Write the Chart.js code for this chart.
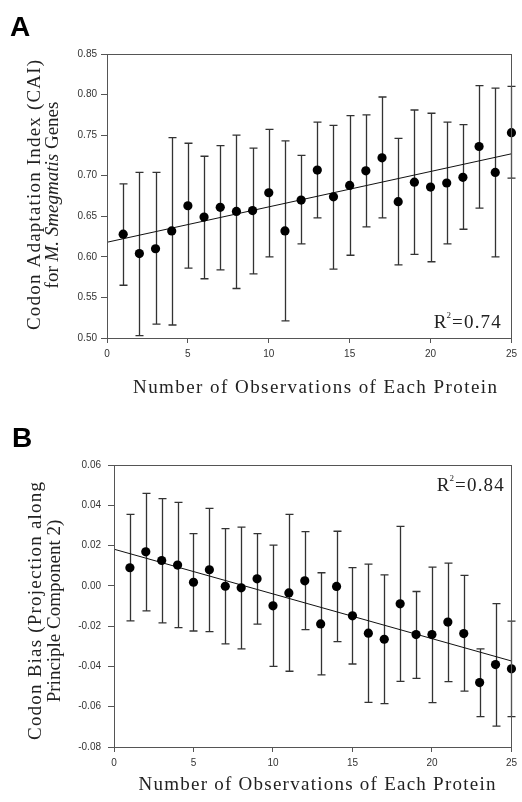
<!DOCTYPE html>
<html><head><meta charset="utf-8">
<script src="https://cdn.jsdelivr.net/npm/chart.js@4.4.1/dist/chart.umd.min.js"></script>
<style>
html,body{margin:0;padding:0;background:#fff;}
#wrap{position:relative;width:522px;height:802px;overflow:hidden;background:#fff;}
.pane{position:absolute;left:0;width:522px;}
canvas{display:block;}
</style></head><body>
<div id="wrap">
<div class="pane" style="top:0;height:400px"><canvas id="cA" width="522" height="400" style="width:522px;height:400px"></canvas></div>
<div class="pane" style="top:400px;height:402px"><canvas id="cB" width="522" height="402" style="width:522px;height:402px"></canvas></div>
</div>
<script>
// ---- data ----
const observations = [1,2,3,4,5,6,7,8,9,10,11,12,13,14,15,16,17,18,19,20,21,22,23,24,25];

const caiMean  = [0.628,0.604,0.610,0.632,0.663,0.649,0.661,0.656,0.657,0.679,0.632,0.670,0.707,0.674,0.688,0.706,0.722,0.668,0.692,0.686,0.691,0.698,0.736,0.704,0.753];
const caiUpper = [0.690,0.704,0.704,0.747,0.740,0.724,0.737,0.750,0.734,0.757,0.743,0.725,0.766,0.762,0.774,0.775,0.797,0.746,0.781,0.777,0.766,0.763,0.811,0.808,0.810];
const caiLower = [0.565,0.503,0.517,0.516,0.586,0.573,0.584,0.561,0.579,0.600,0.521,0.616,0.648,0.585,0.602,0.637,0.648,0.590,0.603,0.594,0.616,0.634,0.660,0.600,0.697];
const caiFitX  = [0, 25];
const caiFitY  = [0.618, 0.727];
const caiR2    = "0.74";

const biasMean  = [0.0090,0.0169,0.0126,0.0103,0.0018,0.0080,-0.0002,-0.0010,0.0035,-0.0099,-0.0035,0.0025,-0.0189,-0.0003,-0.0149,-0.0235,-0.0265,-0.0089,-0.0242,-0.0242,-0.0180,-0.0237,-0.0480,-0.0391,-0.0412];
const biasUpper = [0.0355,0.0459,0.0433,0.0414,0.0259,0.0385,0.0284,0.0292,0.0259,0.0202,0.0355,0.0269,0.0065,0.0271,0.0091,0.0108,0.0055,0.0295,-0.0028,0.0093,0.0113,0.0052,-0.0313,-0.0088,-0.0175];
const biasLower = [-0.0174,-0.0124,-0.0184,-0.0207,-0.0224,-0.0227,-0.0288,-0.0313,-0.0190,-0.0400,-0.0424,-0.0217,-0.0442,-0.0277,-0.0388,-0.0578,-0.0585,-0.0474,-0.0459,-0.0580,-0.0475,-0.0523,-0.0649,-0.0696,-0.0649];
const biasFitX  = [0, 25];
const biasFitY  = [0.0182, -0.0373];
const biasR2    = "0.84";

const xTicks     = [0,5,10,15,20,25];
const caiTicks   = [0.50,0.55,0.60,0.65,0.70,0.75,0.80,0.85];
const biasTicks  = [-0.08,-0.06,-0.04,-0.02,0.00,0.02,0.04,0.06];

const xTitle = "Number of Observations of Each Protein";

// ---- helpers ----
const SERIF = '"Liberation Serif","Times New Roman",serif';
const SANS  = '"Liberation Sans",Arial,sans-serif';

function drawSpaced(ctx, segs, size, target) {
  // segs: [{t, italic}] ; returns total width & draws starting at 0 baseline 0 (after caller transform)
  let base = 0, n = 0;
  segs.forEach(s => { ctx.font = (s.italic ? 'italic ' : '') + size + 'px ' + SERIF; ctx.letterSpacing = '0px'; base += ctx.measureText(s.t).width; n += s.t.length; });
  const ls = target ? Math.max(0, (target - base) / (n - 1)) : 0;
  const total = base + ls * (n - 1);
  let x = -total / 2;
  segs.forEach(s => {
    ctx.font = (s.italic ? 'italic ' : '') + size + 'px ' + SERIF;
    for (const ch of s.t) {
      ctx.fillText(ch, x, 0);
      x += ctx.measureText(ch).width + ls;
    }
  });
}

function drawR2(ctx, rightX, baseY, val) {
  ctx.save();
  ctx.fillStyle = '#222';
  ctx.textBaseline = 'alphabetic';
  ctx.textAlign = 'left';
  const big = '19px ' + SERIF, small = '9px ' + SERIF;
  const rest = '=' + val;
  ctx.font = big;
  let wR = ctx.measureText('R').width;
  let wRest = 0; for (const ch of rest) wRest += ctx.measureText(ch).width + 1.2;
  ctx.font = small;
  const w2 = ctx.measureText('2').width;
  let x = rightX - (wR + w2 + 1 + wRest);
  ctx.font = big; ctx.fillText('R', x, baseY); x += wR;
  ctx.font = small; ctx.fillText('2', x, baseY - 10); x += w2 + 1;
  ctx.font = big;
  for (const ch of rest) { ctx.fillText(ch, x, baseY); x += ctx.measureText(ch).width + 1.2; }
  ctx.restore();
}

const panelPlugin = {
  id: 'panel',
  beforeDatasetsDraw(chart) {
    const cfg = chart.options.plugins.panel;
    const ctx = chart.ctx, xs = chart.scales.x, ys = chart.scales.y;
    ctx.save();
    ctx.strokeStyle = '#333';
    ctx.lineWidth = 1.3;
    const cap = 4;
    cfg.xs.forEach((xv, i) => {
      const px = Math.round(xs.getPixelForValue(xv)) + 0.5;
      const top = ys.getPixelForValue(cfg.hi[i]);
      const bot = ys.getPixelForValue(cfg.lo[i]);
      ctx.beginPath();
      ctx.moveTo(px, top); ctx.lineTo(px, bot);
      ctx.moveTo(px - cap, top); ctx.lineTo(px + cap, top);
      ctx.moveTo(px - cap, bot); ctx.lineTo(px + cap, bot);
      ctx.stroke();
    });
    ctx.restore();
  },
  afterDraw(chart) {
    const cfg = chart.options.plugins.panel;
    const ctx = chart.ctx, a = chart.chartArea;
    ctx.save();
    // frame
    ctx.strokeStyle = '#555';
    ctx.lineWidth = 1;
    ctx.strokeRect(Math.round(a.left) + 0.5, Math.round(a.top) + 0.5, Math.round(a.right - a.left), Math.round(a.bottom - a.top));
    // panel letter
    ctx.fillStyle = '#000';
    ctx.font = 'bold 28px ' + SANS;
    ctx.textBaseline = 'alphabetic';
    ctx.fillText(cfg.letter, cfg.letterX, cfg.letterY);
    // x title
    ctx.fillStyle = '#222';
    ctx.save();
    ctx.translate(cfg.xTitleX, cfg.xTitleY);
    drawSpaced(ctx, [{t: xTitle}], 19, cfg.xTitleW);
    ctx.restore();
    // y title lines
    cfg.yLines.forEach(l => {
      ctx.save();
      ctx.translate(l.x, cfg.yCenter);
      ctx.rotate(-Math.PI / 2);
      drawSpaced(ctx, l.segs, 19, l.w);
      ctx.restore();
    });
    ctx.restore();
    drawR2(ctx, cfg.r2X, cfg.r2Y, cfg.r2);
  }
};

function makeChart(id, o) {
  const pts = o.xs.map((x, i) => ({x, y: o.mean[i]}));
  const fit = o.fitX.map((x, i) => ({x, y: o.fitY[i]}));
  return new Chart(document.getElementById(id), {
    type: 'scatter',
    data: {
      datasets: [
        { data: pts, pointRadius: 4.6, pointHoverRadius: 4.6, backgroundColor: '#000', borderColor: '#000', borderWidth: 0, clip: false },
        { type: 'line', data: fit, borderColor: '#111', borderWidth: 1, pointRadius: 0, fill: false, tension: 0 }
      ]
    },
    options: {
      responsive: false, animation: false, devicePixelRatio: 1,
      layout: { padding: { left: 0, top: o.padTop, right: o.padRight, bottom: 0 } },
      plugins: {
        legend: { display: false }, tooltip: { enabled: false }, title: { display: false },
        panel: {
          xs: o.xs, hi: o.hi, lo: o.lo, letter: o.letter, letterX: o.letterX, letterY: o.letterY,
          xTitleX: o.xTitleX, xTitleY: o.xTitleY, xTitleW: o.xTitleW,
          yCenter: o.yCenter, yLines: o.yLines, r2: o.r2, r2X: o.r2X, r2Y: o.r2Y
        }
      },
      scales: {
        x: {
          type: 'linear', min: 0, max: 25,
          afterFit(s) { s.height = o.xH; },
          afterBuildTicks(s) { s.ticks = xTicks.map(v => ({value: v})); },
          grid: { drawOnChartArea: false, drawTicks: true, tickLength: 5, color: '#555', tickColor: '#555' },
          border: { display: true, color: '#555', width: 1 },
          ticks: { padding: 5, color: '#333', font: { family: SANS, size: 10 }, maxRotation: 0, callback: v => String(v) }
        },
        y: {
          type: 'linear', min: o.yMin, max: o.yMax,
          afterFit(s) { s.width = o.yW; },
          afterBuildTicks(s) { s.ticks = o.yTicks.map(v => ({value: v})); },
          grid: { drawOnChartArea: false, drawTicks: true, tickLength: 6, color: '#555', tickColor: '#555' },
          border: { display: true, color: '#555', width: 1 },
          ticks: { padding: o.yPad, color: '#333', font: { family: SANS, size: 10 }, callback: v => Number(v).toFixed(2) }
        }
      }
    },
    plugins: [panelPlugin]
  });
}

makeChart('cA', {
  xs: observations, mean: caiMean, hi: caiUpper, lo: caiLower, fitX: caiFitX, fitY: caiFitY,
  yMin: 0.50, yMax: 0.85, yTicks: caiTicks, yW: 107, yPad: 4, xH: 62, padTop: 54, padRight: 9,
  letter: 'A', letterX: 10, letterY: 36,
  xTitleX: 315, xTitleY: 393, xTitleW: 364,
  yCenter: 195,
  yLines: [
    { x: 40, w: 270, segs: [{t: 'Codon Adaptation Index (CAI)'}] },
    { x: 58, w: 177, segs: [{t: 'for '}, {t: 'M. Smegmatis', italic: true}, {t: ' Genes'}] }
  ],
  r2: caiR2, r2X: 502, r2Y: 328
});

makeChart('cB', {
  xs: observations, mean: biasMean, hi: biasUpper, lo: biasLower, fitX: biasFitX, fitY: biasFitY,
  yMin: -0.08, yMax: 0.06, yTicks: biasTicks, yW: 114, yPad: 7, xH: 55, padTop: 65, padRight: 4,
  letter: 'B', letterX: 12, letterY: 47,
  xTitleX: 317, xTitleY: 390, xTitleW: 357,
  yCenter: 211,
  yLines: [
    { x: 41, w: 258, segs: [{t: 'Codon Bias (Projection along'}] },
    { x: 60, w: 162, segs: [{t: 'Principle Component 2)'}] }
  ],
  r2: biasR2, r2X: 505, r2Y: 91
});
</script>
</body></html>
